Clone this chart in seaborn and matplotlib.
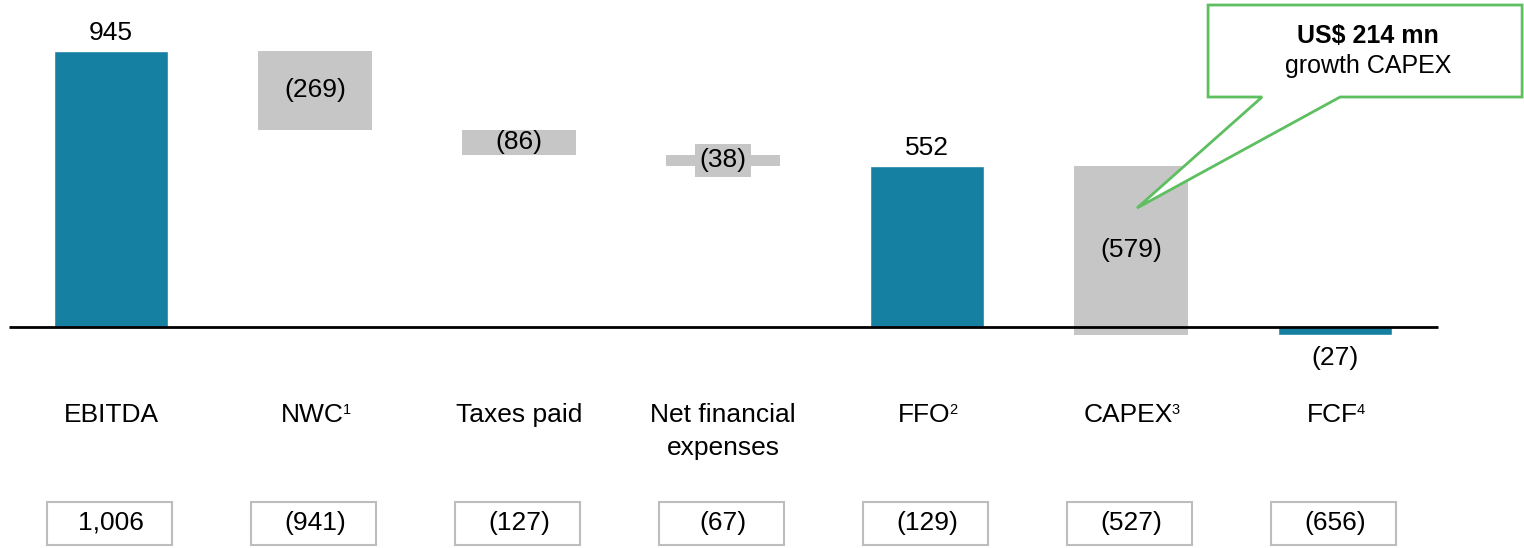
import numpy as np
import pandas as pd
import matplotlib
matplotlib.use("Agg")
import matplotlib.pyplot as plt
from matplotlib.patches import Rectangle, Polygon
import seaborn as sns

# data
categories = ["EBITDA", "NWC", "Taxes paid", "Net financial\nexpenses", "FFO", "CAPEX", "FCF"]
footnotes = ["", "1", "", "", "2", "3", "4"]
changes = [945, -269, -86, -38, None, -579, None]
is_total = [True, False, False, False, True, False, True]
bar_labels = ["945", "(269)", "(86)", "(38)", "552", "(579)", "(27)"]
prior_year = ["1,006", "(941)", "(127)", "(67)", "(129)", "(527)", "(656)"]
callout_bold = "US$ 214 mn"
callout_text = "growth CAPEX"

teal = "#1680a2"
grey = "#c6c6c6"
green = "#5dbf60"

# running totals for the waterfall
tops, bottoms = [], []
run = 0
for ch, tot in zip(changes, is_total):
    if tot and ch is None:
        bottoms.append(0)
        tops.append(run)
    elif tot:
        run = ch
        bottoms.append(0)
        tops.append(run)
    else:
        new = run + ch
        bottoms.append(new)
        tops.append(run)
        run = new
df = pd.DataFrame({"cat": categories, "top": tops, "bottom": bottoms, "total": is_total})
df["value"] = np.where(df["total"], df["top"], np.nan)
df.loc[df["cat"] == "FCF", "value"] = run  # FCF ends below zero
df.loc[df["cat"] == "FCF", "bottom"] = 0

sns.set_theme(style="white")
plt.rcParams["font.family"] = ["Liberation Sans", "DejaVu Sans"]
plt.rcParams["text.color"] = "black"

fig = plt.figure(figsize=(15.24, 5.48), dpi=100)
ax = fig.add_axes([0, 0, 1, 1])

width = 0.56
# totals from zero with seaborn
sns.barplot(data=df, x="cat", y="value", order=categories, color=teal,
            width=width, errorbar=None, saturation=1, ax=ax)
# floating steps
steps = df[~df["total"]]
ax.bar(steps.index, steps["top"] - steps["bottom"], bottom=steps["bottom"],
       width=width, color=grey, linewidth=0)

ax.set_xlim(-0.544, 6.926)
ax.set_ylim(-757, 1120)
ax.axis("off")

ax.hlines(0, -0.5, 6.505, color="black", lw=2, zorder=5)

fs = 19
px = 3.425  # data units per pixel
xpx = 1 / 204  # category units per pixel
sup_texts = []
for i, row in df.iterrows():
    lab = bar_labels[i]
    if row["total"]:
        v = row["value"]
        if v >= 0:
            ax.text(i, v + 18 * px, lab, ha="center", va="center", fontsize=fs)
        else:
            ax.text(i, v - 23 * px, lab, ha="center", va="center", fontsize=fs)
    else:
        mid = (row["top"] + row["bottom"]) / 2
        bb = dict(facecolor=grey, edgecolor="none", pad=3) if lab == "(38)" else None
        ax.text(i, mid, lab, ha="center", va="center", fontsize=fs, bbox=bb, zorder=6)

    # category name, one text per line so baselines line up
    shift = -3 * xpx if footnotes[i] else 0
    for k, line in enumerate(categories[i].split("\n")):
        t = ax.text(i + shift, -(95 + 33 * k) * px, line, ha="center", va="baseline",
                    fontsize=fs)
    if footnotes[i]:
        sup_texts.append((t, footnotes[i]))

    ax.add_patch(Rectangle((i - 0.315, -218 * px), 0.613, 43 * px, facecolor="white",
                           edgecolor="#bdbdbd", lw=1.5))
    ax.text(i, -196 * px, prior_year[i], ha="center", va="center", fontsize=fs)

# footnote markers right after the label text
fig.canvas.draw()
inv = ax.transData.inverted()
for t, note in sup_texts:
    bb = t.get_window_extent()
    x_end = inv.transform((bb.x1, bb.y0))[0]
    ax.text(x_end - 1 * xpx, -(95 - 19) * px, note, ha="left", va="top", fontsize=10.5)

# callout
def to_data(x, y):
    return ((x - 111) / 204, (327 - y) * px)

pts = [(1208, 5), (1522, 5), (1522, 97), (1340, 97), (1137, 208), (1262, 97), (1208, 97)]
ax.add_patch(Polygon([to_data(*p) for p in pts], closed=True, facecolor="white",
                     edgecolor=green, lw=2, zorder=7))
cx, cy = to_data(1368, 36)
ax.text(cx, cy, callout_bold, ha="center", va="center", fontsize=fs - 1,
        fontweight="bold", zorder=8)
cx, cy = to_data(1368, 66)
ax.text(cx, cy, callout_text, ha="center", va="center", fontsize=fs - 1, zorder=8)

fig.savefig("out.png", dpi=100)
